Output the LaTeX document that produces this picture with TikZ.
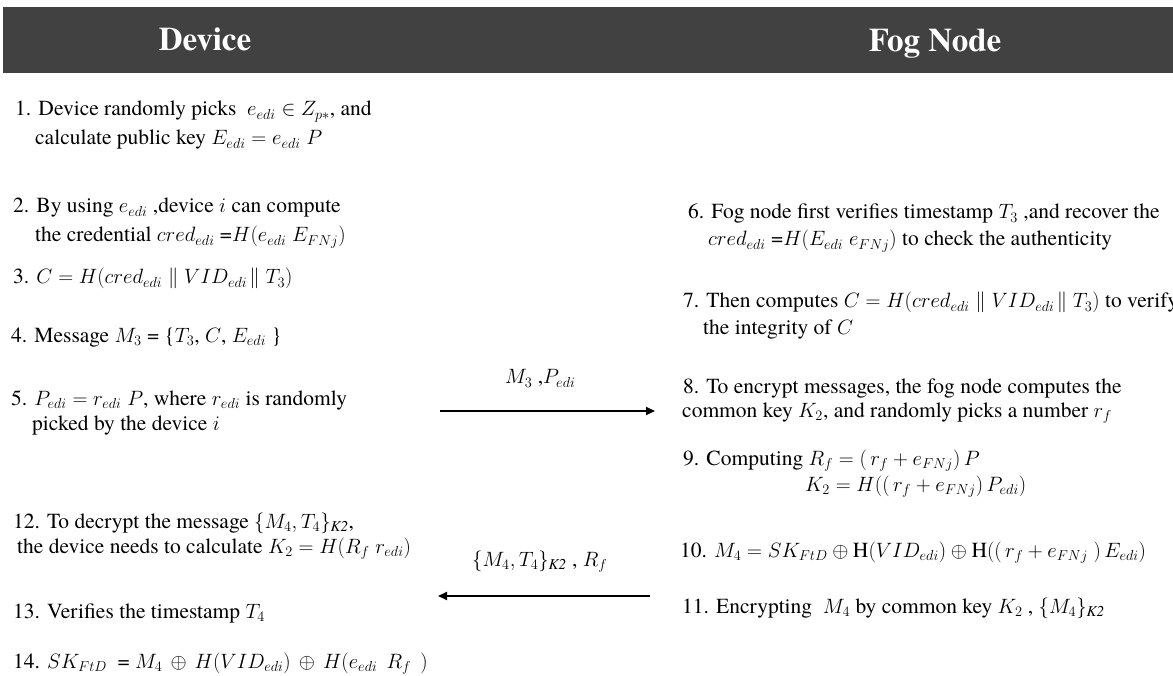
\documentclass[tikz,border=0pt]{standalone}
\usepackage{amsmath}
\usepackage{fontspec}
\setmainfont{TeX Gyre Termes}
\usetikzlibrary{arrows.meta}
\definecolor{hdrgray}{HTML}{414141}
\newcommand{\kk}{\text{\itshape K2}}
\newcommand{\hh}{\text{H}}
\tikzset{
  txt/.style={anchor=base west, inner sep=0pt, font=\fontsize{21.5}{26}\selectfont, text=black},
  hdr/.style={anchor=base, inner sep=0pt, font=\fontsize{33}{40}\selectfont\bfseries, text=white},
  lbl/.style={anchor=base west, inner sep=0pt, font=\fontsize{21.5}{26}\selectfont},
  msg/.style={line width=1.8pt, -{Triangle[length=9pt,width=8pt]}}
}
\begin{document}
\begin{tikzpicture}[x=1pt,y=-1pt]
\clip (0,0) rectangle (1173,676);
\fill[white] (0,0) rectangle (1173,676);
% header
\fill[hdrgray] (3,7) rectangle (1173,73);
\node[hdr] (hdev) at (205,51) {Device};
\node[hdr] (hfog) at (935,51.5) {Fog Node};
% device column
\node[txt] (l1a) at (15,116) {1. Device randomly picks~ $e_{edi} \in Z_{p*}$, and};
\node[txt] (l1b) at (35,145) {calculate public key $E_{edi} = e_{edi}\;P$};
\node[txt] (l2a) at (13,213) {2. By using $e_{edi}$ ,device $i$ can compute};
\node[txt] (l2b) at (35,242) {the credential $cred_{edi}$ =$H(e_{edi}\;E_{FNj})$};
\node[txt] (l3) at (13,284) {3. $C = H(cred_{edi}\parallel VID_{edi}\!\parallel T_3)$};
\node[txt] (l4) at (11,342) {4. Message $M_3$ = \{$T_3$, $C$, $E_{edi}$ \}};
\node[txt] (l5a) at (11,405) {5. $P_{edi} = r_{edi}\;P$, where $r_{edi}$ is randomly};
\node[txt] (l5b) at (32,430) {picked by the device $i$};
\node[txt] (l12a) at (13,528) {12. To decrypt the message $\{M_4, T_4\}_{\kk}$,};
\node[txt] (l12b) at (17,553) {the device needs to calculate $K_2 = H(R_f\;r_{edi})$};
\node[txt] (l13) at (13,618) {13. Verifies the timestamp $T_4$};
\node[txt] (l14) at (13,668) {14. $SK_{FtD}$ ~= $M_4 \,\oplus\, H(VID_{edi}) \,\oplus\, H(e_{edi}\;\,R_f\;\,)$};
% fog node column
\node[txt] (r6a) at (688,219) {6. Fog node first verifies timestamp $T_3$ ,and recover the};
\node[txt] (r6b) at (708,246) {$cred_{edi}$ =$H(E_{edi}\;e_{FNj})$ to check the authenticity};
\node[txt] (r7a) at (683,308) {7. Then computes $C = H(cred_{edi}\parallel VID_{edi}\!\parallel T_3)$ to verify};
\node[txt] (r7b) at (703,335) {the integrity of $C$};
\node[txt] (r8a) at (683,393) {8. To encrypt messages, the fog node computes the};
\node[txt] (r8b) at (682,417) {common key $K_2$, and randomly picks a number $r_f$};
\node[txt] (r9a) at (683,465) {9. Computing $R_f = (\,r_f + e_{FNj})\,P$};
\node[txt] (r9b) at (805,491) {$K_2 = H((\,r_f + e_{FNj})\,P_{edi})$};
\node[txt] (r10) at (680,557) {10. $M_4 = SK_{FtD} \oplus \hh(VID_{edi}) \oplus \hh((\,r_f + e_{FNj}\;)\,E_{edi})$};
\node[txt] (r11) at (682,613) {11. Encrypting~ $M_4$ by common key $K_2$ , $\{M_4\}_{\kk}$};
% messages
\coordinate (m1s) at (440,411);
\coordinate (m1e) at (655,411);
\coordinate (m2s) at (650,596);
\coordinate (m2e) at (438,596);
\draw[msg] (m1s) -- (m1e);
\draw[msg] (m2s) -- (m2e);
\node[lbl] (m1l) at (505,384) {$M_3$ ,$P_{edi}$};
\node[lbl] (m2l) at (472,566) {$\{M_4, T_4\}_{\kk}$ , $R_f$};
\end{tikzpicture}
\end{document}
